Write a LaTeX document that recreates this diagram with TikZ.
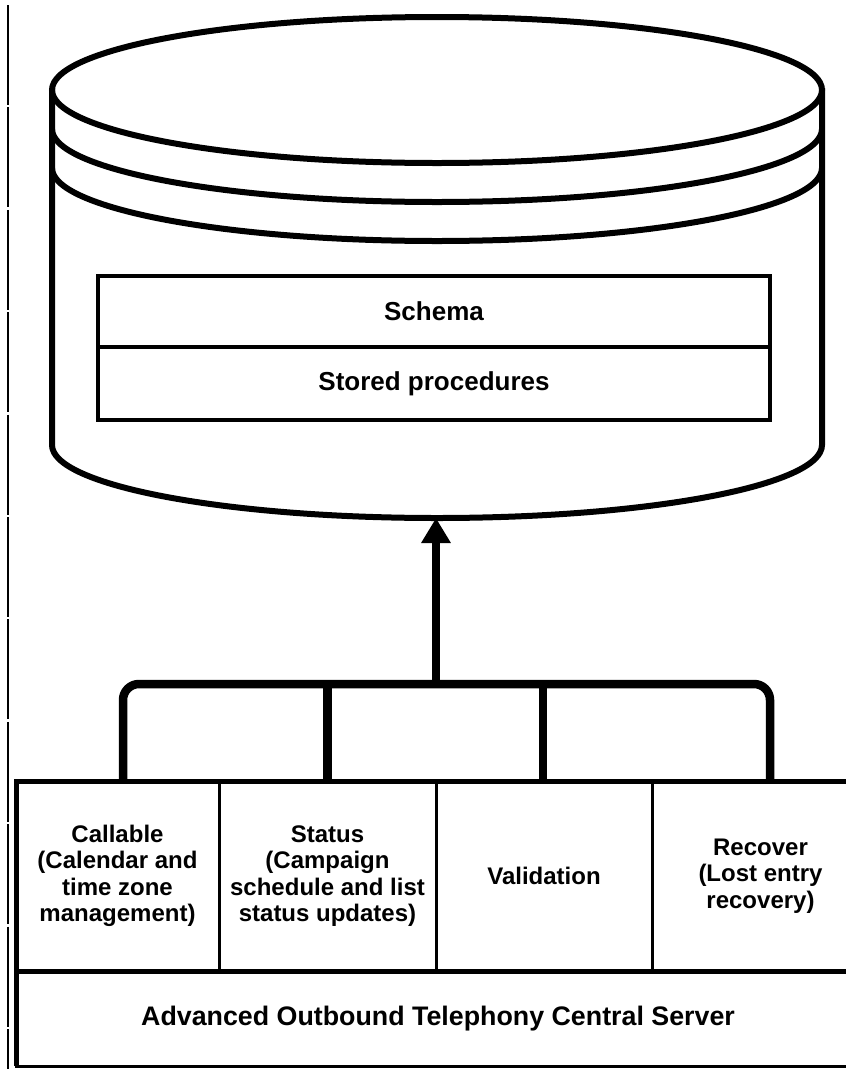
\documentclass[tikz,border=0pt]{standalone}
\usepackage{fontspec}
\setmainfont{Liberation Sans}
\usetikzlibrary{arrows.meta}
\begin{document}
\begin{tikzpicture}[x=1pt,y=-1pt,
  cyl/.style={line width=6pt},
  small/.style={font=\bfseries\fontsize{24}{26.5}\selectfont, align=center},
  big/.style={font=\bfseries\fontsize{26}{30}\selectfont, align=center},
  inner/.style={draw, line width=4.5pt, inner sep=0pt, minimum width=672pt, big},
  cell/.style={draw, line width=3pt, inner sep=0pt, minimum height=190pt, small},
  bus/.style={line width=8.5pt},
  feed/.style={line width=8pt, -{Triangle[width=28pt,length=25pt]}},
  frame/.style={line width=5pt}
]
\useasboundingbox (0,0) rectangle (846,1069);

% page rule on the left
\draw[line width=1.5pt, dash pattern=on 100pt off 2.4pt] (8,5) -- (8,1069);

% database cylinder
\draw[cyl] (437,90) ellipse [x radius=385, y radius=73];
\draw[cyl] (52,129) arc[start angle=180, end angle=0, x radius=385, y radius=73];
\draw[cyl] (52,168) arc[start angle=180, end angle=0, x radius=385, y radius=73];
\draw[cyl] (52,88) -- (52,445) arc[start angle=180, end angle=0, x radius=385, y radius=73] -- (822,88);
\coordinate (dbbase) at (436,518);

% contents of the database
\node[inner, minimum height=71pt] (schema) at (434,311.5) {Schema};
\node[inner, minimum height=73pt] (procs) at (434,383.5) {Stored procedures};

% server components
\node[cell, minimum width=203pt] (callable) at (117.5,876) {Callable\\(Calendar and\\time zone\\management)};
\node[cell, minimum width=217pt] (status) at (327.5,876) {Status\\(Campaign\\schedule and list\\status updates)};
\node[cell, minimum width=216pt] (validation) at (544,876) {Validation};
\node[cell, minimum width=217pt] (recover) at (760.5,876) {Recover\\(Lost entry\\recovery)};
\node[draw, line width=3pt, inner sep=0pt, minimum width=844pt, minimum height=95pt,
      font=\bfseries\fontsize{26.8}{30}\selectfont] (server) at (438,1018.5) {Advanced Outbound Telephony Central Server};

% heavier outer frame lines
\draw[frame] (16,1066) -- (16,781) -- (880,781);
\draw[frame] (16,971) -- (880,971);

% bus joining the components to the database
\coordinate (hub) at (436,684);
\draw[bus, rounded corners=16pt] ([xshift=5.5pt]callable.north) |- (hub) -| ([xshift=9.5pt]recover.north);
\draw[bus] (status.north) -- (status.north |- hub);
\draw[bus] ([xshift=-1pt]validation.north) -- ([xshift=-1pt]validation.north |- hub);
\draw[feed] (hub) -- (dbbase);
\end{tikzpicture}
\end{document}
